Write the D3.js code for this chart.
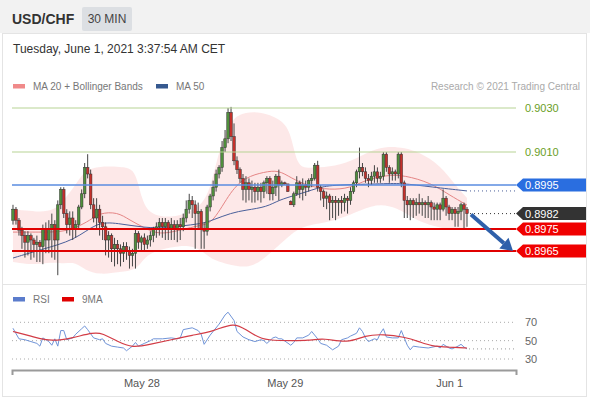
<!DOCTYPE html>
<html>
<head>
<meta charset="utf-8">
<script src="https://cdn.jsdelivr.net/npm/d3@7"></script>
<style>
  body { margin: 0; background: #fff; }
</style>
</head>
<body>
<div id="chart"></div>
<script>
const W = 590, H = 400;

// 30 min candles, quotes in 1/10000 (8984 = 0.8984)
const opens = [79,84,79,74.5,72,69,72,70,68,69, 67,75,70,75,77,70,86,93,82,77, 80,75,77,85,91,103,100,86,80,84,
    78,76,70,72,66,68,66,64,67,65, 63,64,73,69,71,68,70,72,75,76, 78,76,78,75,77,75,77,76,80,84,
    88,86,82,83,75,74,85,90,94,100, 103,112,116,128,117,106,102,98,93,96, 93,94,92,94,92,96,98,91,94,99,
    95,96,95.5,87.5,86,91,96,93,95,94, 97,98,104,94,92,89,90,87,88,87, 88,87,89,88,92,96,101,103,101,98,
    97,99,101,98,99,109,103,100,101,100, 109,96,88,86,88,86,87,86,87,86, 87,85,84,86,84,89,85,82,84,82,
    83,86,84].map(v => 8900 + v);
const highs = [86,85,80,76,74,74,73,71,72,70, 77,78,79,82,79,88,94,94,84,83, 83,79,86,93,105,109,102,89,89,86,
    81,78,74,73,71,70,68,69,69,67, 66,75,74,72,73,72,74,76,78,80, 80,80,79,80,79,79,80,82,88,91,
    90,88,87,84,78,86,91,97,102,104, 115,120,130,130.5,123,108,103,100,99,98, 97,96,96,96,97,99,99,97,100,102,
    97,96.5,95.5,88,92,99,97,98,97,98, 100,105,106,95,93,92,91,90,90,89, 90,91,90,94,97,102,112,105,103,100,
    101,104,103,101,110,110,104,103,102,110, 110,97,90,89,89,89,91,89,88,90, 88,87,87,87,93,90,86,85,85,85,
    87,87,85].map(v => 8900 + v);
const lows = [77,77,72,66,62,63,61,62,60,60, 59,64,64,62,61,54,84,80,73,72, 70,71,75,84,89,98,84,78,75,72,
    70,63,62,60,58,59,58,60,61,57, 58,57,66,65,65,66,67,69,71,72, 71,70,70,70,70,69,70,74,78,82,
    80,66,75,66,66,72,83,88,92,98, 101,110,114,115,104,100,96,88,87,88, 87,87,88,87,89,91,88,88,90,88,
    94,95,92,86,85,90,89,88,90,92, 94,97,92,88,85,84,79,80,79,81, 82,83,82,86,91,94,98,99,96,94,
    95,96,96,96,97,101,96,97,97,98, 94,80,80,79,80,81,82,81,80,80, 79,79,79,79,83,81,79,79,76,76,
    79,75,76].map(v => 8900 + v);
const closes = [84,79,74.5,72,69,72,70,68,69,67, 75,70,75,77,70,86,93,82,77,80, 75,77,85,91,103,100,86,80,84,78,
    76,70,72,66,68,66,64,67,65,63, 64,73,69,71,68,70,72,75,76,78, 76,78,75,77,75,77,76,80,84,88,
    86,82,83,75,74,85,90,94,100,103, 112,116,128,117,106,102,98,93,96,93, 94,92,94,92,96,98,91,94,99,95,
    96,95.5,92,86,91,96,93,95,94,97, 98,104,94,92,89,90,87,88,87,88, 87,89,88,92,96,101,103,101,98,97,
    99,101,98,99,109,103,100,101,100,109, 96,88,86,88,86,87,86,87,86,87, 85,84,86,84,89,85,82,84,82,83,
    86,84,82].map(v => 8900 + v);

// Bollinger band (MA 20) read at sample candles
const bandIdx = [0,4,9,14,17,21,24,29,36,41,43,46,53,59,63,66,69,73,78,83,89,93,95,99,106,113,120,126,131,136,143,148,152];
const bandUpper = [8983.6,8983.6,8982.7,8983.6,8988.2,8995,9001.8,9003.6,9003.2,9002.7,8988.2,8981.4,8980,8982.7,8985.9,8992.7,
    9010.9,9025.5,9028.2,9028.2,9025.5,9020,9003.2,9002.7,9003.2,9005.5,9010.9,9012.7,9011.8,9010,9004.1,8995,8989.1];
const bandLower = [8960,8959.1,8959.1,8960,8959.1,8960,8956.4,8954.1,8955.5,8956.4,8960,8964.5,8966.8,8967.7,8965.5,8961.8,
    8960,8958.6,8957.3,8960,8967.7,8972.3,8974.5,8976.8,8978.2,8981.4,8985.9,8985.9,8982.7,8978.2,8975.5,8974.5,8974.5];

const ma20Idx = [0,9,16,21,26,29,35,39,44,49,56,63,67,73,78,84,89,93,99,106,113,118,125,131,140,146,152];
const ma20Vals = [8973.6,8973.6,8973.6,8975.5,8979.1,8982.3,8982.7,8979.1,8975.5,8972.3,8974.5,8976.8,8977.7,8992.7,
    8998.6,9000.9,9001.8,8998.2,8994.5,8992.7,8993.6,8997.3,8999.5,8999.5,8995.9,8990.5,8985.9];

const ma50Idx = [0,9,21,28,35,44,52,56,63,67,73,78,85,89,95,102,106,123,130,140,152];
const ma50Vals = [8961.8,8965.5,8970,8978.2,8977.7,8975.5,8975.5,8976.4,8977.3,8979.1,8982.3,8983.6,8985,8988.2,
    8990.5,8993.6,8995,8995.5,8995.9,8994.1,8992.3];

// RSI panel: [candle, value]
const rsiPts = [[0,63.5],[2,52],[4,51],[6,49],[8,47],[9,44],[10,53],[12,49],[13,45],[14,52],[15,44],[16,61],[17,61],
    [18,51],[20,53],[21,57],[23,63],[24,66],[25,62],[27,53],[29,51],[30,52],[31,47],[33,44],[35,43],[37,42],[38,39],
    [40,44],[41,48],[42,44],[44,47],[46,50],[47,52],[50,52],[53,53],[55,52],[56,53],[57,62],[60,64],[62,61],[63,57],
    [64,46],[66,56],[67,60],[69,68],[71,78],[72,81],[74,72],[75,60],[77,54],[79,51],[81,49],[83,51],[84,50],[85,47],
    [87,53],[88,54],[89,52],[90,52],[93,45],[94,48],[95,53],[97,53],[99,56],[100,60],[102,52],[103,47],[105,45],
    [107,40],[109,44],[110,51],[112,53],[113,55],[115,58],[116,64],[117,60],[118,53],[119,49],[121,52],[122,51],
    [123,58],[124,63],[125,54],[127,53],[129,53],[130,61],[131,53],[132,45],[133,40],[134,44],[136,43],[139,42],
    [142,44],[143,42],[144,46],[146,42],[147,41],[149,44],[150,46],[151,43],[152,41]];
const rsiMaPts = [[0,60],[7,54],[13,49],[20,53],[27,59],[30,58],[35,49],[40,42],[46,46],[53,51],[60,56],[67,60],
    [74,70],[78,62],[83,51],[90,50],[93,50],[99,50],[104,53],[112,47],[118,56],[124,57],[131,54],[136,49],[140,44],
    [146,43],[152,42]];

const levelValues = [9030, 9010, 8995, 8982, 8975, 8965];
const levelKinds = ["res", "res", "pivot", "last", "sup", "sup"];
const targetLevel = 8965;
const rsiLevels = [70, 50, 30];
const tickIdx = [43, 91, 146];
const tickLabels = ["May 28", "May 29", "Jun 1"];

const font = '"Liberation Sans", Arial, sans-serif';
const fmt = v => d3.format(".4f")(v / 10000);

const svg = d3.select("#chart").append("svg")
    .attr("width", W).attr("height", H)
    .style("font-family", font);

// frame
svg.append("rect").attr("width", W).attr("height", 33).attr("fill", "#f2f2f2");
svg.append("rect")
    .attr("x", 2.5).attr("y", 33.5).attr("width", 584).attr("height", 363)
    .attr("fill", "#fff").attr("stroke", "#e4e4e4");
svg.append("line")
    .attr("x1", 2.5).attr("x2", 586.5).attr("y1", 284.5).attr("y2", 284.5)
    .attr("stroke", "#e4e4e4");

// header
svg.append("text").attr("x", 12).attr("y", 24)
    .attr("font-size", 14).attr("font-weight", "bold").attr("fill", "#333")
    .text("USD/CHF");
svg.append("rect").attr("x", 82).attr("y", 7).attr("width", 50).attr("height", 24)
    .attr("rx", 2).attr("fill", "#dcdfe3");
svg.append("text").attr("x", 107).attr("y", 23).attr("text-anchor", "middle")
    .attr("font-size", 12).attr("fill", "#444").text("30 MIN");
svg.append("text").attr("x", 13).attr("y", 53)
    .attr("font-size", 12).attr("fill", "#333")
    .text("Tuesday, June 1, 2021 3:37:54 AM CET");

// legends
function legendItem(x0, yc, color, label) {
    svg.append("rect").attr("x", x0).attr("y", yc - 2).attr("width", 12).attr("height", 4.5).attr("fill", color);
    svg.append("text").attr("x", x0 + 20).attr("y", yc + 3.5)
        .attr("font-size", 10).attr("fill", "#777").text(label);
}
legendItem(13, 86, "#f08a8a", "MA 20 + Bollinger Bands");
legendItem(156, 86, "#36598f", "MA 50");
svg.append("text").attr("x", 580).attr("y", 89.5).attr("text-anchor", "end")
    .attr("font-size", 10).attr("fill", "#aaa").text("Research \u00a9 2021 Trading Central");

// scales
const x = d3.scaleLinear().domain([-0.33, 168.4]).range([12, 516]);
const y = d3.scaleLinear().domain([8965, 9030]).range([251, 108]);
const yr = d3.scaleLinear().domain([30, 70]).range([359, 322.3]);
const [xL, xR] = x.range();
const last = closes.length - 1;

// bollinger band
const band = bandIdx.map((d, i) => ({ i: d, hi: bandUpper[i], lo: bandLower[i] }));
svg.append("path").datum(band)
    .attr("fill", "#fcdcdc").attr("opacity", 0.65)
    .attr("d", d3.area().x(d => x(d.i)).y0(d => y(d.lo)).y1(d => y(d.hi)).curve(d3.curveBasis));

const ma20 = ma20Idx.map((d, i) => [d, ma20Vals[i]]);
const ma50 = ma50Idx.map((d, i) => [d, ma50Vals[i]]);
const maLine = d3.line().x(d => x(d[0])).y(d => y(d[1])).curve(d3.curveBasis);
svg.append("path").datum(ma20).attr("fill", "none").attr("stroke", "#e58585").attr("stroke-width", 1).attr("d", maLine);
svg.append("path").datum(ma50).attr("fill", "none").attr("stroke", "#4a5f9a").attr("stroke-width", 1).attr("d", maLine);

// candles
const candles = closes.map((c, i) => ({ i, o: opens[i], h: highs[i], l: lows[i], c }));
const cg = svg.append("g");
cg.selectAll(".wick").data(candles).enter().append("line")
    .attr("class", "wick")
    .attr("x1", d => x(d.i)).attr("x2", d => x(d.i))
    .attr("y1", d => y(d.h)).attr("y2", d => y(d.l))
    .attr("stroke", "#444").attr("stroke-width", 1);
cg.selectAll(".body").data(candles).enter().append("rect")
    .attr("class", "body")
    .attr("x", d => x(d.i) - 1.3).attr("width", 2.6)
    .attr("y", d => y(Math.max(d.o, d.c)))
    .attr("height", d => Math.max(1, Math.abs(y(d.o) - y(d.c))))
    .attr("fill", d => d.c >= d.o ? "#4f8f3c" : "#c4302b")
    .attr("stroke", "#333").attr("stroke-width", 0.5);

// levels
const tagColor = { pivot: "#2a6ee0", last: "#333333", sup: "#f00000" };
levelValues.forEach((v, k) => {
    const kind = levelKinds[k], yy = y(v);
    if (kind === "res") {
        svg.append("line").attr("x1", xL).attr("x2", xR).attr("y1", yy).attr("y2", yy)
            .attr("stroke", "#b7d394").attr("stroke-width", 1);
        svg.append("text").attr("x", xR + 9).attr("y", yy + 4)
            .attr("font-size", 11).attr("fill", "#6b9e26").text(fmt(v));
        return;
    }
    if (kind === "last") {
        svg.append("line").attr("x1", x(last) + 3).attr("x2", xR).attr("y1", yy).attr("y2", yy)
            .attr("stroke", "#333").attr("stroke-dasharray", "1,3");
    } else {
        svg.append("line").attr("x1", xL).attr("x2", xR).attr("y1", yy).attr("y2", yy)
            .attr("stroke", kind === "pivot" ? "#5a8ce0" : "#e00000")
            .attr("stroke-width", kind === "pivot" ? 1.5 : 2);
    }
    svg.append("path")
        .attr("d", `M${xR},${yy}L${xR + 7},${yy - 6.5}H586V${yy + 6.5}H${xR + 7}Z`)
        .attr("fill", tagColor[kind]);
    svg.append("text").attr("x", xR + 9).attr("y", yy + 4)
        .attr("font-size", 11).attr("fill", "#fff").text(fmt(v));
});

// MA 50 last value
svg.append("line").attr("x1", x(last) + 3).attr("x2", xR)
    .attr("y1", y(ma50Vals[ma50Vals.length - 1])).attr("y2", y(ma50Vals[ma50Vals.length - 1]))
    .attr("stroke", "#4a5f9a").attr("stroke-dasharray", "1,3");

// target arrow
const a0 = [x(last) + 4, y(closes[last]) + 1], tip = [xR - 3, y(targetLevel)];
const dx = tip[0] - a0[0], dy = tip[1] - a0[1], len = Math.hypot(dx, dy);
const ux = dx / len, uy = dy / len;
const base = [tip[0] - ux * 12, tip[1] - uy * 12];
svg.append("line").attr("x1", a0[0]).attr("y1", a0[1]).attr("x2", base[0]).attr("y2", base[1])
    .attr("stroke", "#2f60aa").attr("stroke-width", 4);
svg.append("path")
    .attr("d", `M${tip[0]},${tip[1]}L${base[0] - uy * 7},${base[1] + ux * 7}L${base[0] + uy * 7},${base[1] - ux * 7}Z`)
    .attr("fill", "#2f60aa");

// RSI panel
legendItem(13, 299, "#5b7ccc", "RSI");
legendItem(62, 299, "#e00000", "9MA");

rsiLevels.forEach(v => {
    svg.append("line").attr("x1", xL).attr("x2", xR).attr("y1", yr(v)).attr("y2", yr(v))
        .attr("stroke", "#aaa").attr("stroke-dasharray", "1,3");
    svg.append("text").attr("x", xR + 9).attr("y", yr(v) + 4)
        .attr("font-size", 11).attr("fill", "#666").text(v);
});
svg.append("line").attr("x1", x(last) + 2).attr("x2", xR)
    .attr("y1", yr(rsiPts[rsiPts.length - 1][1])).attr("y2", yr(rsiPts[rsiPts.length - 1][1]))
    .attr("stroke", "#999").attr("stroke-dasharray", "1,3");

svg.append("path").datum(rsiPts).attr("fill", "none")
    .attr("stroke", "#7094d8").attr("stroke-width", 1)
    .attr("d", d3.line().x(d => x(d[0])).y(d => yr(d[1])));
svg.append("path").datum(rsiMaPts).attr("fill", "none")
    .attr("stroke", "#d23c46").attr("stroke-width", 1.2)
    .attr("d", d3.line().x(d => x(d[0])).y(d => yr(d[1])).curve(d3.curveBasis));

// time axis
svg.append("g")
    .attr("transform", "translate(0,370)")
    .call(d3.axisBottom(x).tickValues(tickIdx).tickFormat((d, i) => tickLabels[i])
        .tickSizeInner(0).tickSizeOuter(5).tickPadding(9))
    .call(g => g.attr("font-family", font))
    .call(g => g.select(".domain").attr("stroke", "#9a9a9a").attr("stroke-width", 2))
    .call(g => g.selectAll("text").attr("fill", "#555").attr("font-size", 11));
</script>
</body>
</html>
